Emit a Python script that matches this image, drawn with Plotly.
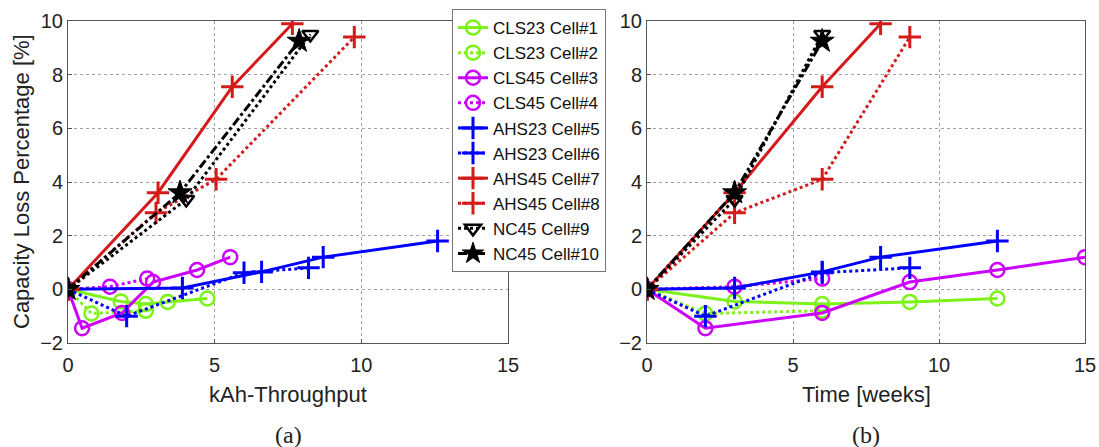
import plotly.graph_objects as go

names = ["CLS23 Cell#1", "CLS23 Cell#2", "CLS45 Cell#3", "CLS45 Cell#4",
         "AHS23 Cell#5", "AHS23 Cell#6", "AHS45 Cell#7", "AHS45 Cell#8",
         "NC45 Cell#9", "NC45 Cell#10"]

# kAh-throughput (a)
kah_c1 = [0, 1.8, 2.65, 3.4, 4.75]
kah_c2 = [0, 0.8, 2.65]
kah_c3 = [0, 0.48, 1.84, 2.9, 4.4, 5.53]
kah_c4 = [0, 1.43, 2.7]
kah_c5 = [0, 3.9, 6.6, 8.7, 12.6]
kah_c6 = [0, 2.0, 6.0, 8.2]
kah_c7 = [0, 3.07, 5.6, 7.65]
kah_c8 = [0, 3.0, 5.05, 9.76]
kah_c9 = [0, 4.03, 8.26]
kah_c10 = [0, 3.82, 7.88]

# Time in weeks (b)
wk_c1 = [0, 3, 6, 9, 12]
wk_c2 = [0, 2, 6]
wk_c3 = [0, 2, 6, 9, 12, 15]
wk_c4 = [0, 3, 6]
wk_c5 = [0, 3, 6, 8, 12]
wk_c6 = [0, 2, 6, 9]
wk_c7 = [0, 3, 6, 8]
wk_c8 = [0, 3, 6, 9]
wk_c9 = [0, 3, 6]
wk_c10 = [0, 3, 6]

# Capacity loss [%]
loss_c1 = [0, -0.45, -0.55, -0.47, -0.34]
loss_c2 = [0, -0.9, -0.8]
loss_c3 = [0, -1.45, -0.88, 0.27, 0.72, 1.2]
loss_c4 = [0, 0.1, 0.4]
loss_c5 = [0, 0.05, 0.65, 1.2, 1.8]
loss_c6 = [0, -1.0, 0.62, 0.8]
loss_c7 = [0, 3.6, 7.55, 9.9]
loss_c8 = [0, 2.85, 4.1, 9.4]
loss_c9 = [0, 3.35, 9.5]
loss_c10 = [0, 3.6, 9.25]

kah = [kah_c1, kah_c2, kah_c3, kah_c4, kah_c5, kah_c6, kah_c7, kah_c8, kah_c9, kah_c10]
wks = [wk_c1, wk_c2, wk_c3, wk_c4, wk_c5, wk_c6, wk_c7, wk_c8, wk_c9, wk_c10]
loss = [loss_c1, loss_c2, loss_c3, loss_c4, loss_c5, loss_c6, loss_c7, loss_c8, loss_c9, loss_c10]

GREEN = "#7CF21A"
MAG = "#CC00FF"
BLUE = "#0000FF"
RED = "#D41A1A"
BLACK = "#000000"

styles = [
    dict(color=GREEN, dash="solid", symbol="circle-open", size=14, mlw=2.5),
    dict(color=GREEN, dash="dot", symbol="circle-open", size=14, mlw=2.5),
    dict(color=MAG, dash="solid", symbol="circle-open", size=14, mlw=2.5),
    dict(color=MAG, dash="dot", symbol="circle-open", size=14, mlw=2.5),
    dict(color=BLUE, dash="solid", symbol="cross-thin", size=16, mlw=3),
    dict(color=BLUE, dash="dot", symbol="cross-thin", size=16, mlw=3),
    dict(color=RED, dash="solid", symbol="cross-thin", size=16, mlw=3),
    dict(color=RED, dash="dot", symbol="cross-thin", size=16, mlw=3),
    dict(color=BLACK, dash="dot", symbol="triangle-down-open", size=14, mlw=2.5),
    dict(color=BLACK, dash="dashdot", symbol="star", size=18, mlw=1),
]

fig = go.Figure()
for i, nm in enumerate(names):
    st = styles[i]
    for xs, xa, ya, show in ((kah[i], "x", "y", True), (wks[i], "x2", "y2", False)):
        fig.add_trace(go.Scatter(
            x=xs, y=loss[i], name=nm, xaxis=xa, yaxis=ya, showlegend=show,
            legendgroup=nm, mode="lines+markers",
            line=dict(color=st["color"], width=3, dash=st["dash"]),
            marker=dict(symbol=st["symbol"], size=st["size"], color=st["color"],
                        line=dict(color=st["color"], width=st["mlw"])),
        ))

W, H = 1099, 447
def px_x(p):
    return p / W
def px_y(p):
    return 1 - p / H

SANS = "Liberation Sans, Arial"
axis_common = dict(
    showgrid=True, gridcolor="#A0A0A0", griddash="dot", gridwidth=1,
    showline=True, linecolor="#555555", linewidth=1, mirror=True,
    ticks="inside", ticklen=4, tickcolor="#555555", automargin=False,
    zeroline=False, tickfont=dict(family=SANS, size=20, color="#222"),
)

fig.update_layout(
    width=W, height=H,
    margin=dict(l=0, r=0, t=0, b=0, pad=0, autoexpand=False),
    paper_bgcolor="white", plot_bgcolor="white",
    xaxis=dict(domain=[px_x(68), px_x(508)], range=[0, 15], tickvals=[0, 5, 10, 15],
               ticklabelstandoff=4, **axis_common),
    yaxis=dict(domain=[px_y(343), px_y(21)], range=[-2, 10], tickvals=[-2, 0, 2, 4, 6, 8, 10],
               anchor="x", **axis_common),
    xaxis2=dict(domain=[px_x(647), px_x(1085)], range=[0, 15], tickvals=[0, 5, 10, 15],
                anchor="y2", ticklabelstandoff=4, **axis_common),
    yaxis2=dict(domain=[px_y(343), px_y(21)], range=[-2, 10], tickvals=[-2, 0, 2, 4, 6, 8, 10],
                anchor="x2", **axis_common),
    legend=dict(
        x=px_x(452), y=px_y(9), xanchor="left", yanchor="top",
        bgcolor="white", bordercolor="#777777", borderwidth=1,
        font=dict(family=SANS, size=17, color="#111"),
        itemwidth=30, tracegroupgap=0,
    ),
    showlegend=True,
)

font_lbl = dict(family=SANS, size=22, color="#222")
font_cap = dict(family="Liberation Serif, Times New Roman", size=24, color="#222")
ann = [
    dict(text="kAh-Throughput", x=px_x(288), y=px_y(394), font=font_lbl),
    dict(text="Time [weeks]", x=px_x(866), y=px_y(394), font=font_lbl),
    dict(text="(a)", x=px_x(288), y=px_y(435), font=font_cap),
    dict(text="(b)", x=px_x(866), y=px_y(435), font=font_cap),
    dict(text="Capacity Loss Percentage [%]", x=px_x(22), y=px_y(182), font=font_lbl, textangle=-90),
]
for a in ann:
    fig.add_annotation(xref="paper", yref="paper", showarrow=False,
                       xanchor="center", yanchor="middle", **a)

fig.write_html("out.html")
